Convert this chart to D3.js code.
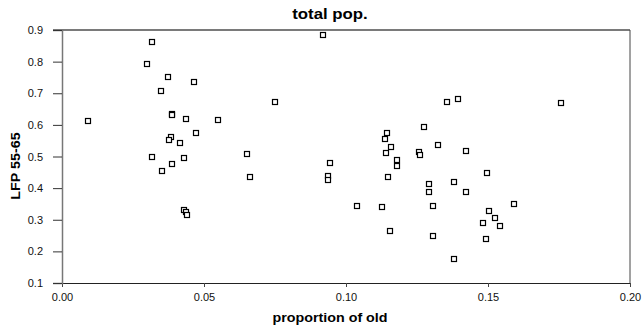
<!DOCTYPE html>
<html>
<head>
<meta charset="utf-8">
<script src="https://cdn.jsdelivr.net/npm/d3@7"></script>
<style>
  body { margin: 0; background: #fff; }
  text { font-family: "Liberation Sans", Arial, sans-serif; }
</style>
</head>
<body>
<svg id="chart"></svg>
<script>
// proportion of old (x) and LFP 55-65 (y)
const propOld = [
  0.0091, 0.0316, 0.0298, 0.0373, 0.0465, 0.0348, 0.0386, 0.0386, 0.0436, 0.0551,
  0.0473, 0.0384, 0.0376, 0.0415, 0.0316, 0.0429, 0.0389, 0.0351, 0.0652, 0.0663,
  0.0750, 0.0920, 0.0942, 0.0935, 0.0935, 0.0431, 0.0436, 0.0439, 0.1040, 0.1127,
  0.1146, 0.1137, 0.1159, 0.1140, 0.1178, 0.1181, 0.1147, 0.1156, 0.1257, 0.1259,
  0.1273, 0.1292, 0.1293, 0.1306, 0.1308, 0.1325, 0.1354, 0.1393, 0.1382, 0.1380,
  0.1422, 0.1423, 0.1496, 0.1503, 0.1523, 0.1481, 0.1542, 0.1493, 0.1592, 0.1757
];
const lfp = [
  0.613, 0.863, 0.792, 0.751, 0.736, 0.708, 0.635, 0.630, 0.619, 0.614,
  0.575, 0.561, 0.551, 0.544, 0.497, 0.494, 0.475, 0.455, 0.508, 0.434,
  0.673, 0.884, 0.481, 0.439, 0.425, 0.332, 0.324, 0.316, 0.344, 0.339,
  0.575, 0.556, 0.531, 0.512, 0.488, 0.469, 0.436, 0.264, 0.513, 0.506,
  0.593, 0.412, 0.388, 0.342, 0.250, 0.536, 0.671, 0.682, 0.419, 0.176,
  0.518, 0.389, 0.447, 0.327, 0.305, 0.289, 0.279, 0.238, 0.350, 0.670
];
const xTicks = [0, 0.05, 0.10, 0.15, 0.20];
const yTicks = [0.1, 0.2, 0.3, 0.4, 0.5, 0.6, 0.7, 0.8, 0.9];

const width = 643, height = 334;
const margin = { top: 30, right: 13, bottom: 51, left: 62 };

const svg = d3.select("#chart")
  .attr("width", width)
  .attr("height", height);

const x = d3.scaleLinear().domain([0, 0.2]).range([margin.left, width - margin.right]);
const y = d3.scaleLinear().domain([0.1, 0.9]).range([height - margin.bottom, margin.top]);

// frame: top and right
svg.append("line")
  .attr("x1", x(0) - 9).attr("x2", x(0.2))
  .attr("y1", y(0.9)).attr("y2", y(0.9))
  .attr("stroke", "#7a7a7a").attr("stroke-width", 2);
svg.append("line")
  .attr("x1", x(0.2)).attr("x2", x(0.2))
  .attr("y1", y(0.9)).attr("y2", y(0.1))
  .attr("stroke", "#444").attr("stroke-width", 1);

const xAxis = svg.append("g")
  .attr("transform", `translate(0,${y(0.1)})`)
  .call(d3.axisBottom(x).tickValues(xTicks).tickFormat(d3.format(".2f")).tickSize(4).tickPadding(6));
const yAxis = svg.append("g")
  .attr("transform", `translate(${x(0)},0)`)
  .call(d3.axisLeft(y).tickValues(yTicks).tickFormat(d3.format(".1f")).tickSize(9).tickPadding(10));

xAxis.select(".domain").attr("stroke", "#222");
xAxis.selectAll(".tick line").attr("stroke", "#444");
yAxis.select(".domain").attr("stroke", "#777").attr("stroke-width", 1.5);
yAxis.selectAll(".tick line").attr("stroke", "#333");
[xAxis, yAxis].forEach(a => {
  a.selectAll("text").attr("font-size", 11).attr("fill", "#111")
    .style("font-family", "'Liberation Sans', Arial, sans-serif");
});

svg.append("g")
  .selectAll("rect")
  .data(propOld.map((v, i) => [v, lfp[i]]))
  .join("rect")
  .attr("x", d => Math.round(x(d[0])) - 2.5)
  .attr("y", d => Math.round(y(d[1])) - 2.5)
  .attr("width", 5)
  .attr("height", 5)
  .attr("fill", "#fff")
  .attr("stroke", "#000")
  .attr("stroke-width", 1.2);

svg.append("text")
  .attr("transform", "translate(330,19) scale(1.2,1)")
  .attr("text-anchor", "middle")
  .attr("font-size", 14)
  .attr("font-weight", "bold")
  .text("total pop.");

svg.append("text")
  .attr("transform", "translate(330,322) scale(1.1,1)")
  .attr("text-anchor", "middle")
  .attr("font-size", 13)
  .attr("font-weight", "bold")
  .text("proportion of old");

svg.append("text")
  .attr("transform", "translate(20,166) rotate(-90) scale(1.1,1)")
  .attr("text-anchor", "middle")
  .attr("font-size", 13)
  .attr("font-weight", "bold")
  .text("LFP 55-65");
</script>
</body>
</html>
